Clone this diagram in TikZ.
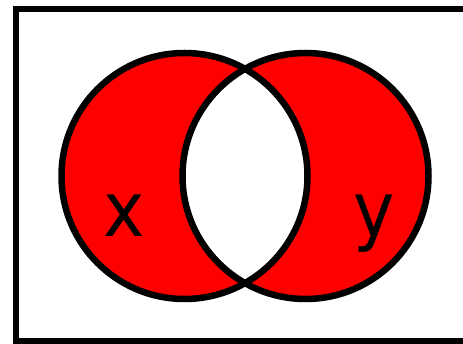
\documentclass[tikz,border=0pt]{standalone}
\usepackage{fontspec}
\setmainfont{DejaVu Sans}
\begin{document}
\begin{tikzpicture}[x=1pt,y=-1pt,line width=6.5pt]
\useasboundingbox (0,0) rectangle (463,344);
\begin{scope}
\clip (0,0) rectangle (463,344);
\draw (16,9) rectangle (480,341);
\end{scope}

\fill[red,even odd rule] (184.5,176) circle (123) (305.5,176) circle (123);
\draw (184.5,176) circle (123);
\draw (305.5,176) circle (123);

\node[anchor=base,xscale=0.92,font=\fontsize{76}{76}\selectfont] at (124,237) {x};
\node[anchor=base,xscale=0.92,font=\fontsize{76}{76}\selectfont] at (374,237) {y};
\end{tikzpicture}
\end{document}
